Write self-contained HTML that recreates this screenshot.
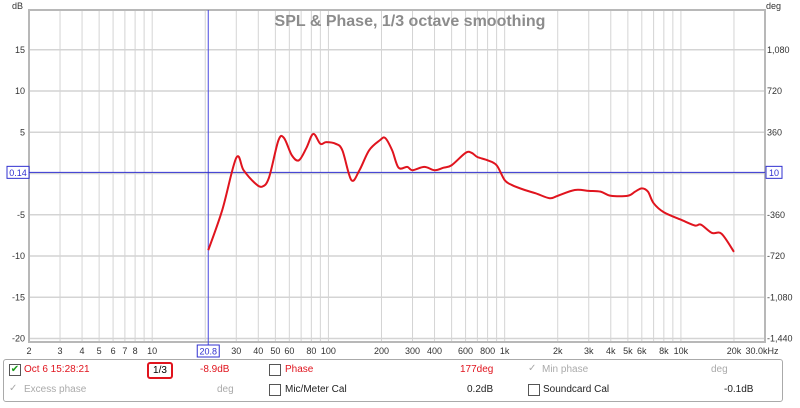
<!DOCTYPE html>
<html><head><meta charset="utf-8"><style>
body{margin:0;background:#fff;width:800px;height:403px;overflow:hidden;font-family:"Liberation Sans",sans-serif}
svg text{font-family:"Liberation Sans",sans-serif}
</style></head><body>
<svg id="chart" width="800" height="403" xmlns="http://www.w3.org/2000/svg">
<rect x="0" y="0" width="800" height="403" fill="#fff"/>
<g id="grid"></g>
<rect x="29" y="10" width="736" height="332" fill="none" stroke="#b8b8b8" stroke-width="2"/>
<text x="410" y="26" font-size="16" font-weight="bold" fill="#8c8c8c" text-anchor="middle">SPL &amp; Phase, 1/3 octave smoothing</text>
<text x="12" y="9" font-size="9" fill="#333">dB</text>
<text x="766" y="9" font-size="9" fill="#333">deg</text>
<g id="ticks"></g>
<g id="cursor"></g>
<path id="curve" fill="none" stroke="#e0141e" stroke-width="2" stroke-linejoin="round"/>
</svg>
<div style="position:absolute;left:3px;top:359px;width:778px;height:41px;border:1px solid #aaa;border-radius:3px;font-size:10px">
 <div style="position:absolute;left:5px;top:4px;width:10px;height:10px;border:1px solid #555;background:#fff;font-size:10px;line-height:10px;color:#1a9a1a;text-align:center">✔</div>
 <span style="position:absolute;left:20px;top:4px;color:#e0141e">Oct 6 15:28:21</span>
 <div style="position:absolute;left:143px;top:2px;width:22px;height:13px;border:2px solid #e0141e;border-radius:3px;text-align:center;line-height:13px;font-size:10px">1/3</div>
 <span style="position:absolute;left:196px;top:4px;color:#e0141e">-8.9dB</span>
 <div style="position:absolute;left:265px;top:4px;width:10px;height:10px;border:1px solid #555"></div>
 <span style="position:absolute;left:281px;top:4px;color:#e0141e">Phase</span>
 <span style="position:absolute;left:456px;top:4px;color:#e0141e">177deg</span>
 <span style="position:absolute;left:524px;top:3px;color:#aaa">✓</span>
 <span style="position:absolute;left:538px;top:4px;color:#aaa">Min phase</span>
 <span style="position:absolute;left:707px;top:4px;color:#aaa">deg</span>
 <span style="position:absolute;left:5px;top:23px;color:#aaa">✓</span>
 <span style="position:absolute;left:20px;top:24px;color:#aaa">Excess phase</span>
 <span style="position:absolute;left:213px;top:24px;color:#aaa">deg</span>
 <div style="position:absolute;left:265px;top:24px;width:10px;height:10px;border:1px solid #555"></div>
 <span style="position:absolute;left:281px;top:24px;color:#222">Mic/Meter Cal</span>
 <span style="position:absolute;left:463px;top:24px;color:#222">0.2dB</span>
 <div style="position:absolute;left:524px;top:24px;width:10px;height:10px;border:1px solid #555"></div>
 <span style="position:absolute;left:539px;top:24px;color:#222">Soundcard Cal</span>
 <span style="position:absolute;left:720px;top:24px;color:#222">-0.1dB</span>
</div>
<script>
const freqs=[20.8,25,30,33,38,42,46,52,56,62,68,75,82,90,97,110,120,135,150,170,195,210,230,250,280,300,350,400,450,500,600,650,700,800,900,1000,1100,1300,1500,1800,2000,2500,3000,3500,4000,5000,5500,6000,6500,7000,8000,10000,12000,13000,15000,17000,20000];
const splDb=[-9.3,-4.4,1.9,0.4,-1.1,-1.6,-0.5,4.0,4.3,2.2,1.6,3.1,4.8,3.6,3.8,3.6,2.8,-0.8,0.4,2.8,4.0,4.3,2.8,0.7,0.8,0.4,0.8,0.4,0.7,1.0,2.5,2.5,2.0,1.6,1.0,-0.8,-1.4,-2.0,-2.4,-3.0,-2.7,-2.0,-2.1,-2.2,-2.7,-2.7,-2.2,-1.8,-2.2,-3.6,-4.7,-5.6,-6.3,-6.2,-7.2,-7.3,-9.5];
const dbTicks=[15,10,5,0,-5,-10,-15,-20];
const degTicks=["1,080","720","360","0","-360","-720","-1,080","-1,440"];
const xTickVals=[2,3,4,5,6,7,8,10,30,40,50,60,80,100,200,300,400,600,800,1000,2000,3000,4000,5000,6000,8000,10000,20000];
const xTickLabels=["2","3","4","5","6","7","8","10","30","40","50","60","80","100","200","300","400","600","800","1k","2k","3k","4k","5k","6k","8k","10k","20k"];
const cursorFreq=20.8, cursorDb=0.14;
const X0=29,X1=765,FMIN=2,FMAX=30000;
const x=f=>X0+(Math.log10(f)-Math.log10(FMIN))/(Math.log10(FMAX)-Math.log10(FMIN))*(X1-X0);
const y=d=>173.5-d*8.25;
const NS="http://www.w3.org/2000/svg";
function mk(t,a,p){const e=document.createElementNS(NS,t);for(const k in a)e.setAttribute(k,a[k]);p.appendChild(e);return e;}
const g=document.getElementById('grid'),tk=document.getElementById('ticks'),cu=document.getElementById('cursor');
for(let dec=1;dec<=10000;dec*=10)for(let m=1;m<=9;m++){const f=dec*m;if(f<FMIN||f>FMAX)continue;
 const l=mk('line',{x1:x(f),x2:x(f),y1:10,y2:342,stroke:'#d4d4d4','stroke-width':1},g);
 
 }
dbTicks.forEach((d,i)=>{
 const l=mk('line',{x1:X0,x2:X1,y1:y(d),y2:y(d),stroke:'#d4d4d4','stroke-width':1.5},g);
 
 
 if(d!==0){const t=mk('text',{x:25,y:y(d)+3,'font-size':9,'text-anchor':'end',fill:'#333'},tk);t.textContent=d;
 
 
 const t2=mk('text',{x:767,y:y(d)+3,'font-size':9,fill:'#333'},tk);t2.textContent=degTicks[i];
 
 }
});
xTickVals.forEach((f,i)=>{const t=mk('text',{x:x(f),y:354,'font-size':9,'text-anchor':'middle',fill:'#333'},tk);t.textContent=xTickLabels[i];
 
 });
const hz=mk('text',{x:x(FMAX)-3,y:354,'font-size':9,'text-anchor':'middle',fill:'#333'},tk);hz.textContent="30.0kHz";


const cx=x(cursorFreq),cy=y(cursorDb);
const vl=mk('line',{x1:cx,x2:cx,y1:10,y2:345,stroke:'#4848e0','stroke-width':1},cu);


const hl=mk('line',{x1:X0,x2:X1,y1:cy,y2:cy,stroke:'#3030d0','stroke-width':1},cu);


[[cx-11,345,22,12,cursorFreq,'cursor-freq-label'],[7,cy-6,22,12,cursorDb,'cursor-db-label'],[766,cy-6,16,12,'10','cursor-deg-label']].forEach(b=>{
 const r=mk('rect',{x:b[0],y:b[1],width:b[2],height:b[3],fill:'#fff',stroke:'#3030d0'},cu);
 
 
 const t=mk('text',{x:b[0]+b[2]/2,y:b[1]+9.5,'font-size':9,'text-anchor':'middle',fill:'#3030d0'},cu);t.textContent=b[4];
 
 
});
const pts=freqs.map((f,i)=>[x(f),y(splDb[i])]);
let d='M'+pts[0][0]+','+pts[0][1];
for(let i=0;i<pts.length-1;i++){const p0=pts[Math.max(0,i-1)],p1=pts[i],p2=pts[i+1],p3=pts[Math.min(pts.length-1,i+2)];
 d+=' C'+(p1[0]+(p2[0]-p0[0])/6)+','+(p1[1]+(p2[1]-p0[1])/6)+' '+(p2[0]-(p3[0]-p1[0])/6)+','+(p2[1]-(p3[1]-p1[1])/6)+' '+p2[0]+','+p2[1];}
document.getElementById('curve').setAttribute('d',d);
</script>
</body></html>
